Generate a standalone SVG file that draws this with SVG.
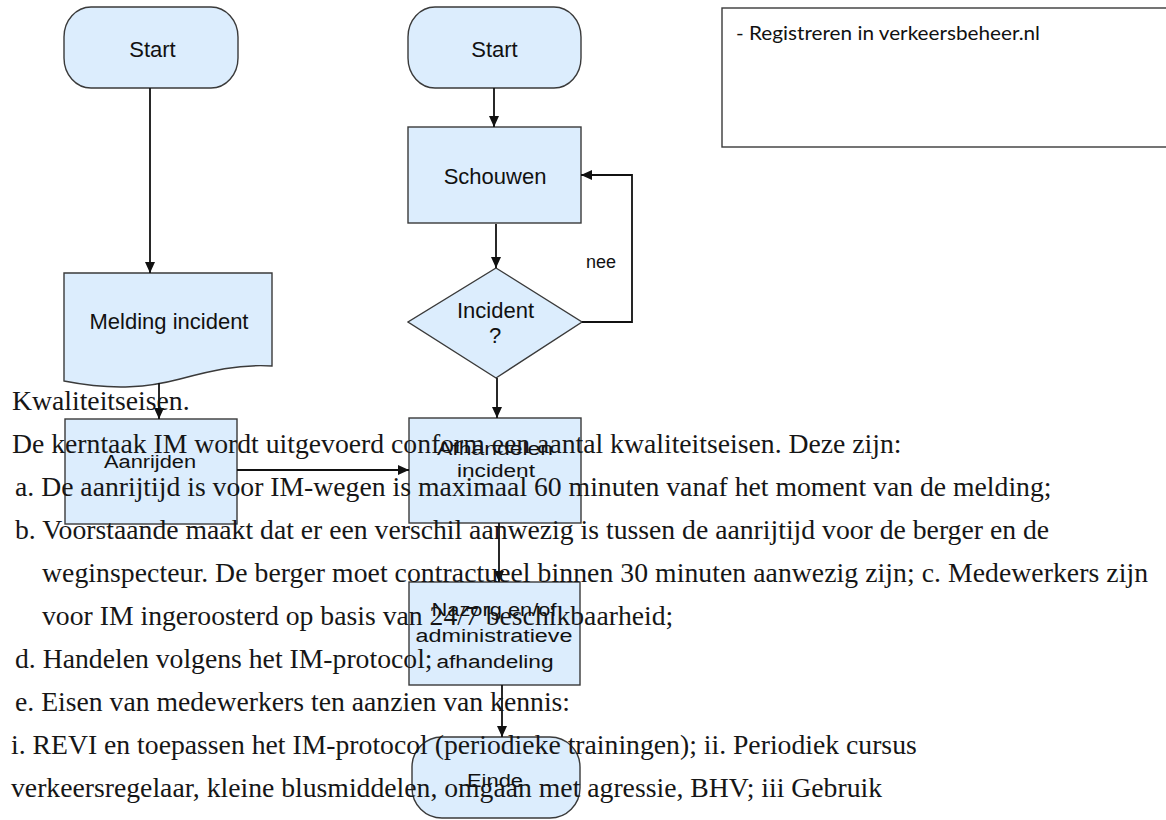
<svg xmlns="http://www.w3.org/2000/svg" width="1166" height="820" viewBox="0 0 1166 820">
  <style>
    .node { fill: #dcedfd; stroke: #3a3a3a; stroke-width: 1.4; }
    .note { fill: #ffffff; stroke: #3a3a3a; stroke-width: 1.4; }
    .edge { fill: none; stroke: #111; stroke-width: 1.8; }
    .lbl { font-family: "Liberation Sans", Arial, sans-serif; font-size: 22px; fill: #111; text-anchor: middle; }
    .lbl-s { font-family: "Liberation Sans", Arial, sans-serif; font-size: 18px; fill: #111; text-anchor: middle; }
    .note-txt { font-family: Lato, "Open Sans", sans-serif; font-size: 18.5px; fill: #111; }
    .body { font-family: "Liberation Serif", "Times New Roman", serif; font-size: 27.7px; fill: #161616; }
  </style>
  <defs>
    <marker id="arrow" markerUnits="userSpaceOnUse" markerWidth="11" markerHeight="10" refX="11" refY="5" orient="auto">
      <path d="M0,0 L11,5 L0,10 Z" fill="#111"/>
    </marker>
  </defs>

  <rect width="1166" height="820" fill="#ffffff"/>

  <!-- left lane -->
  <g id="start-left">
    <rect class="node" x="64" y="7" width="174" height="81" rx="27" ry="30"/>
    <text class="lbl" x="152.5" y="57">Start</text>
  </g>
  <g id="melding-incident">
    <path class="node" d="M64,273 H272 V366 C238,364 210,371 180,379 C150,387 115,391 64,381 Z"/>
    <text class="lbl" x="169" y="329">Melding incident</text>
  </g>
  <g id="aanrijden">
    <rect class="node" x="65" y="419" width="172" height="105"/>
    <text class="lbl-s" x="150" y="468" textLength="92" lengthAdjust="spacingAndGlyphs">Aanrijden</text>
  </g>

  <!-- right lane -->
  <g id="start-right">
    <rect class="node" x="408" y="7" width="173" height="81" rx="27" ry="30"/>
    <text class="lbl" x="494.5" y="57">Start</text>
  </g>
  <g id="schouwen">
    <rect class="node" x="408" y="127" width="173" height="96"/>
    <text class="lbl" x="495" y="184">Schouwen</text>
  </g>
  <g id="incident-decision">
    <polygon class="node" points="496,268 582,322 496,378 408,322"/>
    <text class="lbl" x="495.5" y="318">Incident</text>
    <text class="lbl" x="495" y="343">?</text>
  </g>
  <g id="afhandelen-incident">
    <rect class="node" x="409" y="418" width="172" height="105"/>
    <text class="lbl-s" x="495" y="455" textLength="116" lengthAdjust="spacingAndGlyphs">Afhandelen</text>
    <text class="lbl-s" x="496" y="477" textLength="78" lengthAdjust="spacingAndGlyphs">incident</text>
  </g>
  <g id="nazorg">
    <rect class="node" x="409" y="582" width="171" height="103"/>
    <text class="lbl-s" x="494" y="616" textLength="125" lengthAdjust="spacingAndGlyphs">Nazorg en/of</text>
    <text class="lbl-s" x="494" y="642" textLength="157" lengthAdjust="spacingAndGlyphs">administratieve</text>
    <text class="lbl-s" x="495" y="668" textLength="117" lengthAdjust="spacingAndGlyphs">afhandeling</text>
  </g>
  <g id="einde">
    <rect class="node" x="412" y="737" width="168" height="81" rx="30" ry="30"/>
    <text class="lbl-s" x="495" y="787" textLength="56" lengthAdjust="spacingAndGlyphs">Einde</text>
  </g>

  <!-- note box -->
  <g id="note-registreren">
    <rect class="note" x="722" y="8" width="460" height="139"/>
    <text class="note-txt" x="736" y="40" textLength="304" lengthAdjust="spacingAndGlyphs">- Registreren in verkeersbeheer.nl</text>
  </g>

  <!-- connectors -->
  <g id="connectors">
    <line class="edge" x1="150" y1="88" x2="150" y2="273" marker-end="url(#arrow)"/>
    <line class="edge" x1="159" y1="383" x2="159" y2="419" marker-end="url(#arrow)"/>
    <line class="edge" x1="237" y1="470" x2="409" y2="470" marker-end="url(#arrow)"/>
    <line class="edge" x1="494" y1="88" x2="494" y2="127" marker-end="url(#arrow)"/>
    <line class="edge" x1="496" y1="224" x2="496" y2="268" marker-end="url(#arrow)"/>
    <polyline class="edge" points="582,322 632,322 632,175 581,175" marker-end="url(#arrow)"/>
    <text class="lbl-s" x="601" y="268">nee</text>
    <line class="edge" x1="497" y1="378" x2="497" y2="418" marker-end="url(#arrow)"/>
    <line class="edge" x1="499" y1="523" x2="499" y2="582" marker-end="url(#arrow)"/>
    <line class="edge" x1="502" y1="685" x2="502" y2="737" marker-end="url(#arrow)"/>
  </g>

  <!-- running document text over the chart -->
  <g id="body-text" class="body">
    <text x="12" y="410">Kwaliteitseisen.</text>
    <text x="12" y="453">De kerntaak IM wordt uitgevoerd conform een aantal kwaliteitseisen. Deze zijn:</text>
    <text x="15" y="496">a. De aanrijtijd is voor IM-wegen is maximaal 60 minuten vanaf het moment van de melding;</text>
    <text x="15" y="539">b. Voorstaande maakt dat er een verschil aanwezig is tussen de aanrijtijd voor de berger en de</text>
    <text x="42" y="582" textLength="1106" lengthAdjust="spacing">weginspecteur. De berger moet contractueel binnen 30 minuten aanwezig zijn; c. Medewerkers zijn</text>
    <text x="42" y="625">voor IM ingeroosterd op basis van 24/7 beschikbaarheid;</text>
    <text x="15" y="668">d. Handelen volgens het IM-protocol;</text>
    <text x="15" y="711">e. Eisen van medewerkers ten aanzien van kennis:</text>
    <text x="11" y="754">i. REVI en toepassen het IM-protocol (periodieke trainingen); ii. Periodiek cursus</text>
    <text x="11" y="797">verkeersregelaar, kleine blusmiddelen, omgaan met agressie, BHV; iii Gebruik</text>
  </g>
</svg>
